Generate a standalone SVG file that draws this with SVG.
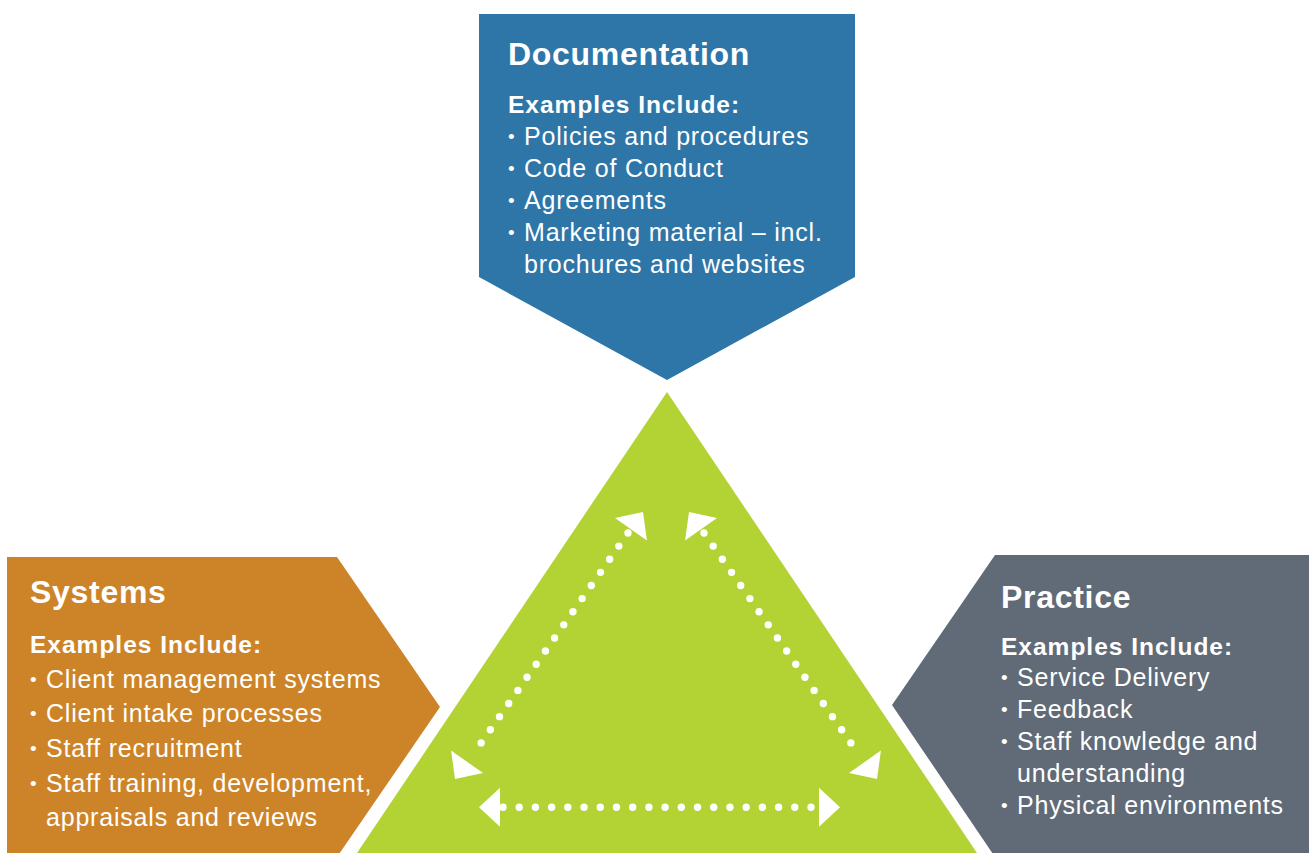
<svg xmlns="http://www.w3.org/2000/svg" width="1309" height="853" viewBox="0 0 1309 853">
  <style>
    text { font-family: "Liberation Sans", Arial, Helvetica, sans-serif; fill: #ffffff; }
    .title { font-size: 32px; font-weight: bold; letter-spacing: 0.7px; }
    .sub { font-size: 24.5px; font-weight: bold; letter-spacing: 1px; }
    .item { font-size: 25px; letter-spacing: 0.8px; }
    .bullet { font-size: 19px; }
    .dots { fill: none; stroke: #ffffff; stroke-width: 7.4; stroke-linecap: round; }
    .head { fill: #ffffff; }
  </style>
  <defs>
    <!-- arrowhead with its tip at the origin, pointing along +x -->
    <path id="arrowhead" class="head" d="M0,0 L-21,-19.5 L-21,19.5 Z"/>
  </defs>

  <rect width="1309" height="853" fill="#ffffff"/>

  <!-- central triangle -->
  <g id="core">
    <polygon points="667,392 977,853 357,853" fill="#b3d335"/>
  </g>

  <g id="documentation">
    <polygon points="479,14 855,14 855,277 667,380 479,277" fill="#2e76a7"/>
    <text class="title" x="508" y="65">Documentation</text>
    <text class="sub" x="508" y="113">Examples Include:</text>
    <text class="bullet" x="508" y="143">•</text><text class="item" x="524" y="145">Policies and procedures</text>
    <text class="bullet" x="508" y="175">•</text><text class="item" x="524" y="177">Code of Conduct</text>
    <text class="bullet" x="508" y="207">•</text><text class="item" x="524" y="209">Agreements</text>
    <text class="bullet" x="508" y="239">•</text><text class="item" x="524" y="241">Marketing material – incl.</text>
    <text class="item" x="524" y="273">brochures and websites</text>
  </g>

  <g id="systems">
    <polygon points="7,557 337,557 440,707 337,857 7,857" fill="#cd8428"/>
    <text class="title" x="30" y="603">Systems</text>
    <text class="sub" x="30" y="653">Examples Include:</text>
    <text class="bullet" x="30" y="686">•</text><text class="item" x="46" y="688">Client management systems</text>
    <text class="bullet" x="30" y="720">•</text><text class="item" x="46" y="722">Client intake processes</text>
    <text class="bullet" x="30" y="755">•</text><text class="item" x="46" y="757">Staff recruitment</text>
    <text class="bullet" x="30" y="790">•</text><text class="item" x="46" y="792">Staff training, development,</text>
    <text class="item" x="46" y="826">appraisals and reviews</text>
  </g>

  <g id="practice">
    <polygon points="995,555 1309,555 1309,857 995,857 892,705" fill="#606b77"/>
    <text class="title" x="1001" y="608">Practice</text>
    <text class="sub" x="1001" y="655">Examples Include:</text>
    <text class="bullet" x="1001" y="684">•</text><text class="item" x="1017" y="686">Service Delivery</text>
    <text class="bullet" x="1001" y="716">•</text><text class="item" x="1017" y="718">Feedback</text>
    <text class="bullet" x="1001" y="748">•</text><text class="item" x="1017" y="750">Staff knowledge and</text>
    <text class="item" x="1017" y="782">understanding</text>
    <text class="bullet" x="1001" y="812">•</text><text class="item" x="1017" y="814">Physical environments</text>
  </g>

  <!-- dotted two-way links between the three corners -->
  <g id="connectors">
    <path class="dots" d="M628,533 L472,756" stroke-dasharray="0 16.01"/>
    <path class="dots" d="M704,533 L860,756" stroke-dasharray="0 16.01"/>
    <path class="dots" d="M503,807.3 L811,807.3" stroke-dasharray="0 16.21"/>
    <use href="#arrowhead" transform="translate(643,512) rotate(-55)"/>
    <use href="#arrowhead" transform="translate(455,779) rotate(125)"/>
    <use href="#arrowhead" transform="translate(689,512) rotate(-125)"/>
    <use href="#arrowhead" transform="translate(877,779) rotate(55)"/>
    <use href="#arrowhead" transform="translate(840,807.3)"/>
    <use href="#arrowhead" transform="translate(479,807.3) rotate(180)"/>
  </g>
</svg>
